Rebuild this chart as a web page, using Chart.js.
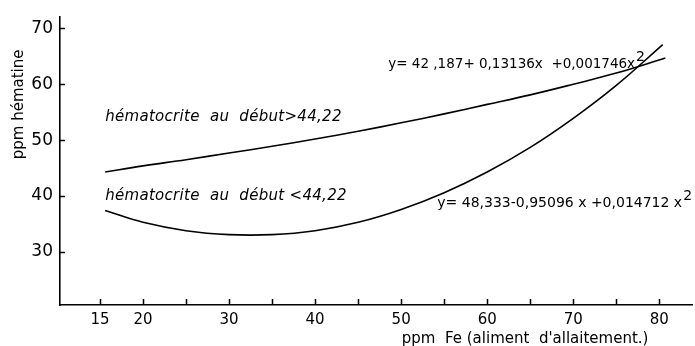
<!DOCTYPE html>
<html>
<head>
<meta charset="utf-8">
<script src="https://cdn.jsdelivr.net/npm/chart.js@4/dist/chart.umd.min.js"></script>
<style>
  html, body { margin: 0; padding: 0; background: #fff; }
  #wrap { width: 695px; height: 346px; }
</style>
</head>
<body>
<div id="wrap"><canvas id="hemChart" width="695" height="346"></canvas></div>
<script>
// values (ppm Fe -> ppm hématine)
const feHigh = [15.6, 20, 25, 30, 35, 40, 45, 50, 55, 60, 65, 70, 75, 80.7];
const hemHigh = [44.3, 45.4, 46.5, 47.7, 48.9, 50.2, 51.6, 53.1, 54.7, 56.4, 58.1, 60.0, 62.0, 64.7];
const feLow = [15.6, 20, 25, 30, 35, 40, 45, 50, 55, 60, 65, 70, 75, 80.4];
const hemLow = [37.4, 35.3, 33.8, 33.1, 33.1, 33.8, 35.3, 37.6, 40.6, 44.3, 48.7, 53.9, 59.8, 67.1];

const xTicks = [15, 20, 25, 30, 35, 40, 45, 50, 55, 60, 65, 70, 75, 80];
const xLabeled = [15, 20, 30, 40, 50, 60, 70, 80];
const yTicks = [30, 40, 50, 60, 70];

const labelHigh = 'hématocrite  au  début>44,22';
const labelLow = 'hématocrite  au  début <44,22';
const eqHigh = 'y= 42 ,187+ 0,13136x  +0,001746x';
const eqLow = 'y= 48,333-0,95096 x +0,014712 x';

const toPoints = (xs, ys) => xs.map((x, i) => ({ x, y: ys[i] }));

const FONT = '"DejaVu Sans", sans-serif';

// inside tick marks, axis titles and the in-plot texts
const decor = {
  id: 'decor',
  afterDraw(chart) {
    const ctx = chart.ctx;
    const xs = chart.scales.x, ys = chart.scales.y;
    const area = chart.chartArea;
    ctx.save();
    ctx.strokeStyle = '#000';
    ctx.lineWidth = 1.5;
    xTicks.forEach(v => {
      const px = Math.round(xs.getPixelForValue(v)) + 0.5;
      ctx.beginPath();
      ctx.moveTo(px, area.bottom);
      ctx.lineTo(px, area.bottom - 6);
      ctx.stroke();
    });
    yTicks.forEach(v => {
      const py = Math.round(ys.getPixelForValue(v)) + 0.5;
      ctx.beginPath();
      ctx.moveTo(area.left, py);
      ctx.lineTo(area.left + 5, py);
      ctx.stroke();
    });

    ctx.fillStyle = '#000';
    ctx.textBaseline = 'middle';

    // x title
    ctx.font = '15px ' + FONT;
    ctx.textAlign = 'center';
    ctx.fillText("ppm  Fe (aliment  d'allaitement.)", xs.getPixelForValue(64.4), 339);

    // y title
    ctx.save();
    ctx.translate(19, ys.getPixelForValue(56.4));
    ctx.rotate(-Math.PI / 2);
    ctx.font = '15px ' + FONT;
    ctx.fillText('ppm hématine', 0, 0);
    ctx.restore();

    // curve labels
    ctx.textAlign = 'left';
    ctx.font = 'oblique 15px ' + FONT;
    ctx.letterSpacing = '0.3px';
    ctx.fillText(labelHigh, xs.getPixelForValue(15.6), ys.getPixelForValue(54.2));
    ctx.fillText(labelLow, xs.getPixelForValue(15.6), ys.getPixelForValue(39.9));
    ctx.letterSpacing = '0px';

    // equations
    ctx.font = '13.5px ' + FONT;
    let x0 = xs.getPixelForValue(48.5), y0 = ys.getPixelForValue(63.5);
    ctx.fillText(eqHigh, x0, y0);
    let w = ctx.measureText(eqHigh).width;
    ctx.font = '14px ' + FONT;
    ctx.fillText('2', x0 + w + 1, y0 - 7);

    ctx.font = '14px ' + FONT;
    x0 = xs.getPixelForValue(54.2); y0 = ys.getPixelForValue(38.7);
    ctx.fillText(eqLow, x0, y0);
    w = ctx.measureText(eqLow).width;
    ctx.fillText('2', x0 + w + 1, y0 - 7);
    ctx.restore();
  }
};

new Chart(document.getElementById('hemChart'), {
  type: 'line',
  data: {
    datasets: [
      {
        label: 'début > 44,22',
        data: toPoints(feHigh, hemHigh),
        borderColor: '#000',
        borderWidth: 1.6,
        pointRadius: 0,
        tension: 0.4,
        fill: false
      },
      {
        label: 'début < 44,22',
        data: toPoints(feLow, hemLow),
        borderColor: '#000',
        borderWidth: 1.6,
        pointRadius: 0,
        tension: 0.4,
        fill: false
      }
    ]
  },
  options: {
    responsive: false,
    animation: false,
    layout: { padding: { left: 0, top: 13, right: 3, bottom: 0 } },
    plugins: {
      legend: { display: false },
      tooltip: { enabled: false }
    },
    scales: {
      x: {
        type: 'linear',
        min: 10.35,
        max: 83.8,
        afterBuildTicks: s => { s.ticks = xTicks.map(v => ({ value: v })); },
        afterFit: s => { s.height = 41; },
        grid: { display: false, drawTicks: false },
        border: { display: true, color: '#000', width: 1.6 },
        ticks: {
          color: '#000',
          font: { family: 'DejaVu Sans', size: 15 },
          padding: 6,
          maxRotation: 0,
          autoSkip: false,
          callback: v => xLabeled.includes(v) ? String(v) : ''
        }
      },
      y: {
        min: 20.5,
        max: 72,
        afterBuildTicks: s => { s.ticks = yTicks.map(v => ({ value: v })); },
        afterFit: s => { s.width = 60; },
        grid: { display: false, drawTicks: false },
        border: { display: true, color: '#000', width: 1.6 },
        ticks: {
          color: '#000',
          font: { family: 'DejaVu Sans', size: 17 },
          padding: 7
        }
      }
    }
  },
  plugins: [decor]
});
</script>
</body>
</html>
